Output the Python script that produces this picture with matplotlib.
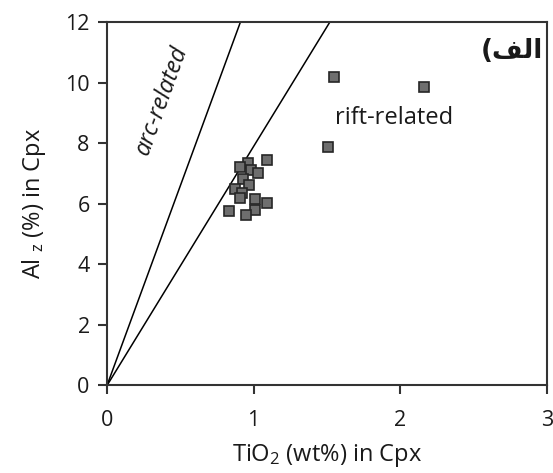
import matplotlib
matplotlib.use("Agg")
import matplotlib.pyplot as plt

plt.rcParams['font.family'] = ['Open Sans', 'DejaVu Sans']
plt.rcParams['mathtext.fontset'] = 'custom'
plt.rcParams['mathtext.rm'] = 'Open Sans'
plt.rcParams['mathtext.it'] = 'Open Sans:italic'

# Clinopyroxene analyses: TiO2 (wt%) vs Al_z (%)
tio2 = [1.55, 2.16, 1.51, 0.96, 1.09, 0.91, 0.98, 1.03, 0.93, 0.97, 0.87,
        0.92, 0.91, 1.01, 1.09, 1.01, 0.83, 0.95]
al_z = [10.17, 9.86, 7.87, 7.35, 7.44, 7.20, 7.11, 7.02, 6.81, 6.62, 6.48,
        6.34, 6.18, 6.15, 6.03, 5.79, 5.77, 5.63]

# Discrimination lines from the origin
arc_line_x = [0.0, 0.91]
arc_line_y = [0.0, 12.0]
rift_line_x = [0.0, 1.52]
rift_line_y = [0.0, 12.0]

x_ticks = [0, 1, 2, 3]
y_ticks = [0, 2, 4, 6, 8, 10, 12]

fig = plt.figure(figsize=(5.53, 4.73), dpi=100)
ax = fig.add_axes([0.1935, 0.185, 0.7955, 0.7685])

ax.plot(arc_line_x, arc_line_y, color='black', lw=1.1)
ax.plot(rift_line_x, rift_line_y, color='black', lw=1.1)
ax.plot(tio2, al_z, linestyle='none', marker='s', ms=7.6,
        mfc='#6e6e6e', mec='#262626', mew=1.2)

ax.set_xlim(0, 3)
ax.set_ylim(0, 12)
ax.set_xticks(x_ticks)
ax.set_yticks(y_ticks)

for s in ax.spines.values():
    s.set_linewidth(1.5)
    s.set_color('#333333')
ax.tick_params(axis='both', direction='out', length=6.5, width=1.5,
               color='#333333', labelsize=15.5, labelcolor='#1a1a1a', pad=6)
ax.tick_params(axis='x', pad=11)

ax.set_xlabel('TiO$_2$ (wt%) in Cpx', fontsize=17, color='#1a1a1a', labelpad=8)
ax.set_ylabel('Al $_\\mathregular{z}$ (%) in Cpx', fontsize=17, color='#1a1a1a', labelpad=12)

ax.text(0.375, 9.42, 'arc-related', fontsize=17, style='italic', rotation=70,
        ha='center', va='center', color='#1a1a1a')
ax.text(1.956, 8.83, 'rift-related', fontsize=17, ha='center', va='center',
        color='#1a1a1a')

# Panel label "الف)" in visual order with Arabic presentation forms
panel = '(' + '\uFED2' + '\uFEDF' + '\u0627'
ax.text(2.97, 11.05, panel, fontsize=19, fontweight='bold', ha='right',
        va='center', family=['DejaVu Sans'], color='#1a1a1a')

fig.savefig('out.png', dpi=100)
